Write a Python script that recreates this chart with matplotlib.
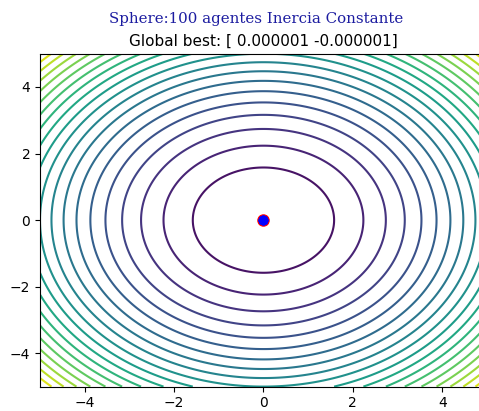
import numpy as np
import matplotlib.pyplot as plt

# search space and contour settings
LOW, HIGH = -5, 5
N_LEVELS = 20

# final swarm state (all agents collapsed onto the optimum)
best_pos = [0.000001, -0.000001]
agents_x = [0.000001, 0.0, -0.000002, 0.000001]
agents_y = [-0.000001, 0.0, 0.000001, -0.000002]


def sphere(x, y):
    return x**2 + y**2


xs = np.linspace(LOW, HIGH, 200)
ys = np.linspace(LOW, HIGH, 200)
X, Y = np.meshgrid(xs, ys)
Z = sphere(X, Y)

fig = plt.figure(figsize=(4.79, 4.11), dpi=100)
ax = fig.add_axes([0.0835, 0.0594, 0.933, 0.81])

ax.contour(X, Y, Z, levels=N_LEVELS, cmap='viridis')
ax.plot(best_pos[0], best_pos[1], 'o', color='red', markersize=8)
ax.plot(agents_x, agents_y, 'o', color='blue', markersize=6)

ax.set_xlim(LOW, HIGH)
ax.set_ylim(LOW, HIGH)
ax.set_xticks([-4, -2, 0, 2, 4])
ax.set_yticks([-4, -2, 0, 2, 4])

ax.set_title(f'Global best: [ {best_pos[0]:.6f} {best_pos[1]:.6f}]', fontsize=11)
fig.suptitle('Sphere:100 agentes Inercia Constante', family='DejaVu Serif',
             color='#1c1ca0', fontsize=10.8, x=0.534, y=0.97)

fig.savefig('out.png', dpi=100)
